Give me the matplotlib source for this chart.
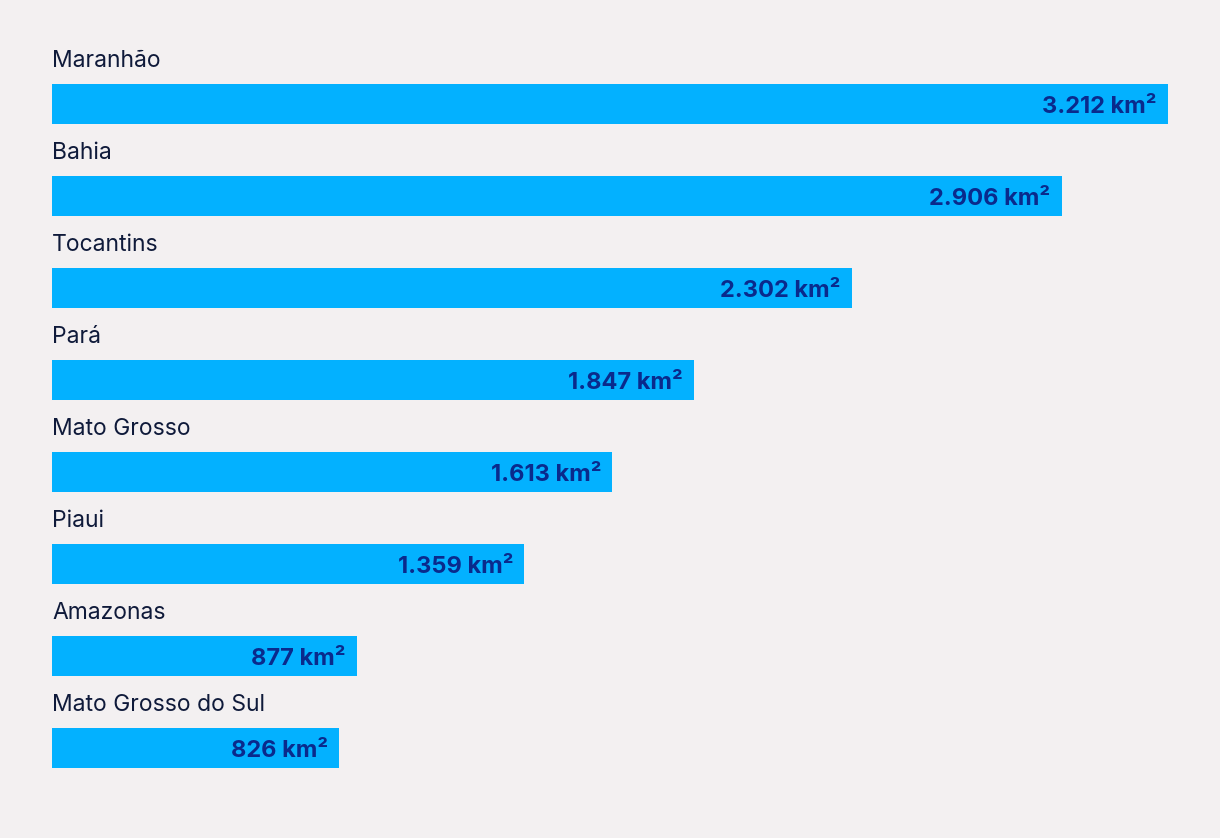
import matplotlib
matplotlib.use("Agg")
from matplotlib import pyplot as plt

states = ["Maranhão", "Bahia", "Tocantins", "Pará", "Mato Grosso",
          "Piaui", "Amazonas", "Mato Grosso do Sul"]
area_km2 = [3212, 2906, 2302, 1847, 1613, 1359, 877, 826]

bg = "#F3F0F1"
bar_color = "#03B1FF"
label_color = "#0F1A3A"
value_color = "#0A2A8C"

plt.rcParams["font.family"] = ["Inter", "DejaVu Sans"]

fig = plt.figure(figsize=(12.2, 8.38), dpi=100, facecolor=bg)
ax = fig.add_axes([52 / 1220, 0, 1116 / 1220, 1])
ax.set_facecolor(bg)

rows = list(range(len(states)))
ax.barh(rows, area_km2, height=40 / 92, color=bar_color, align="center")

for i, (name, v) in enumerate(zip(states, area_km2)):
    ax.text(0, i - 0.405, name, ha="left", va="baseline",
            fontsize=16.5, color=label_color)
    txt = f"{v:,}".replace(",", ".") + " km²"
    ax.annotate(txt, xy=(v, i + 0.03), xytext=(-8, 0), textcoords="offset points",
                ha="right", va="center", fontsize=17, fontweight="bold",
                color=value_color)

ax.set_xlim(0, max(area_km2))
ax.set_ylim((838 - 104) / 92, -104 / 92)
ax.axis("off")

fig.savefig("out.png", dpi=100, facecolor=bg)
